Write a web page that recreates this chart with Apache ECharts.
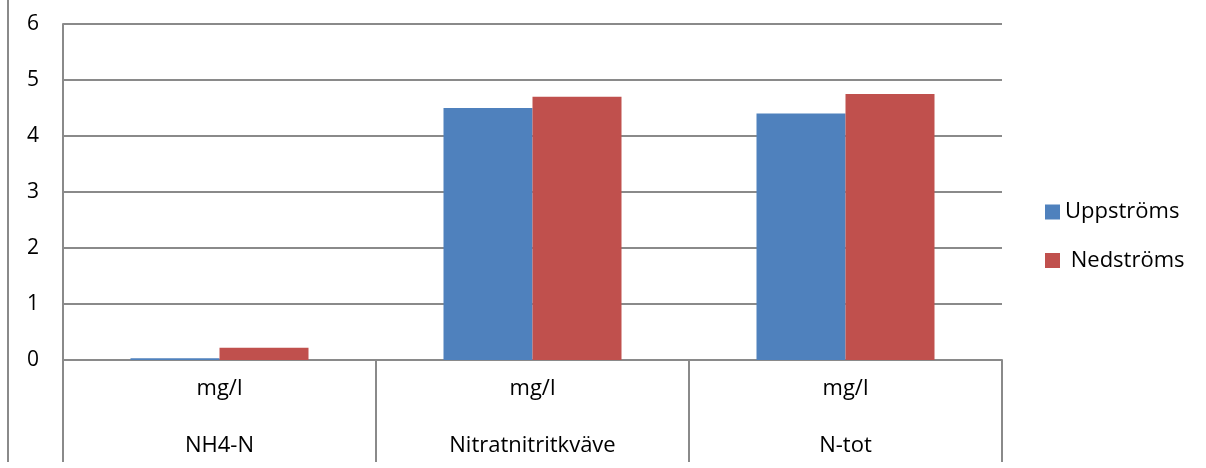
<!DOCTYPE html>
<html>
<head>
<meta charset="utf-8">
<script src="https://cdn.jsdelivr.net/npm/echarts@6/dist/echarts.min.js"></script>
<style>
html,body{margin:0;padding:0;background:#fff;}
#chart{width:1206px;height:468px;}
</style>
</head>
<body>
<div id="chart"></div>
<script>
const categories = ['NH4-N', 'Nitratnitritkväve', 'N-tot'];
const unitLabels = ['mg/l', 'mg/l', 'mg/l'];
const seriesNames = ['Uppströms', ' Nedströms'];
const upstream = [0.03, 4.5, 4.4];
const downstream = [0.22, 4.7, 4.75];
const yTicks = [0, 1, 2, 3, 4, 5, 6];

const FONT = 'Open Sans';
const GRID_COLOR = '#8a8a8a';

const chart = echarts.init(document.getElementById('chart'));
chart.setOption({
  animation: false,
  textStyle: { fontFamily: FONT },
  graphic: [{
    type: 'line',
    shape: { x1: 8, y1: 0, x2: 8, y2: 462 },
    style: { stroke: GRID_COLOR, lineWidth: 2 }
  }],
  grid: { left: 63, right: 204, top: 24, bottom: 108, containLabel: false },
  legend: {
    orient: 'vertical',
    left: 1045,
    top: 201,
    padding: 0,
    itemWidth: 15,
    itemHeight: 15,
    itemGap: 26.5,
    icon: 'rect',
    textStyle: { fontFamily: FONT, fontSize: 22, color: '#000' },
    data: seriesNames
  },
  xAxis: {
    type: 'category',
    data: categories,
    axisLine: { show: true, lineStyle: { color: GRID_COLOR, width: 2 } },
    axisTick: { show: true, interval: 0, length: 102, lineStyle: { color: GRID_COLOR, width: 2 } },
    axisLabel: {
      interval: 0,
      margin: 0,
      formatter: function (v, i) { return '{u|' + unitLabels[i] + '}\n{c|' + v + '}'; },
      rich: {
        u: { fontFamily: FONT, fontSize: 22, color: '#000', lineHeight: 57 },
        c: { fontFamily: FONT, fontSize: 22, color: '#000', lineHeight: 57 }
      }
    }
  },
  yAxis: {
    type: 'value',
    min: yTicks[0],
    max: yTicks[yTicks.length - 1],
    interval: 1,
    axisLine: { show: true, lineStyle: { color: GRID_COLOR, width: 2 } },
    axisTick: { show: false },
    splitLine: { show: true, lineStyle: { color: GRID_COLOR, width: 2 } },
    axisLabel: { margin: 24, fontFamily: FONT, fontSize: 21, color: '#000' }
  },
  series: [
    {
      name: seriesNames[0], type: 'bar', data: upstream,
      barWidth: 89, barGap: '0%',
      itemStyle: { color: '#4F81BD' }
    },
    {
      name: seriesNames[1], type: 'bar', data: downstream,
      barWidth: 89, barGap: '0%',
      itemStyle: { color: '#C0504D' }
    }
  ]
});
</script>
</body>
</html>
